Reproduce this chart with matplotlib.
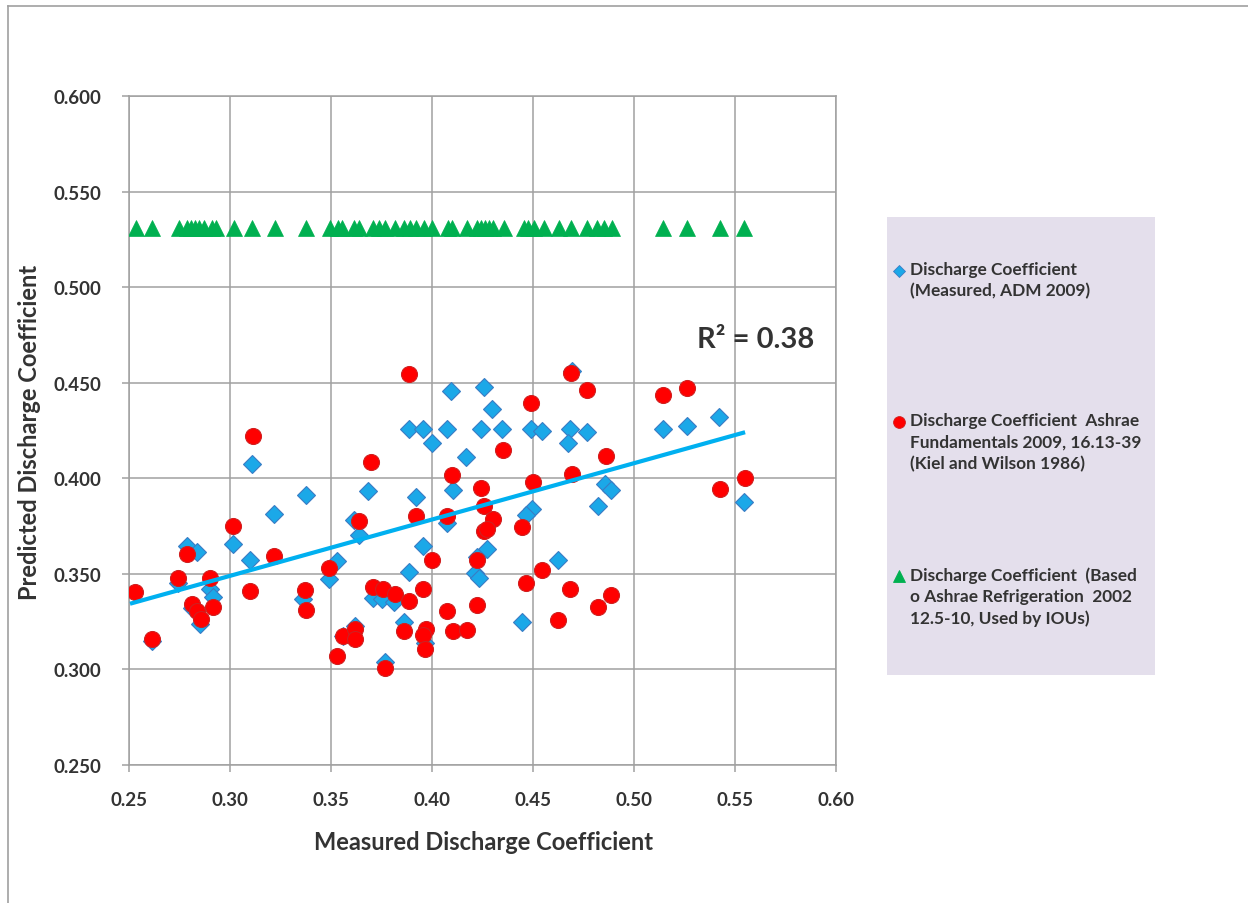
import numpy as np
import matplotlib
matplotlib.use("Agg")
import matplotlib.pyplot as plt
from matplotlib.patches import Rectangle
from matplotlib.lines import Line2D

# ---------------- data ----------------
measured_x = [0.2788, 0.2835, 0.3110, 0.3218, 0.3376, 0.3014, 0.3100, 0.2745, 0.2901, 0.2918,
              0.2810, 0.2851, 0.2612, 0.3531, 0.3490, 0.3614, 0.3637, 0.3685, 0.3619, 0.3561,
              0.3363, 0.4092, 0.4255, 0.4299, 0.3886, 0.3957, 0.4076, 0.4242, 0.4348, 0.4489,
              0.4547, 0.4683, 0.4001, 0.4166, 0.4675, 0.3920, 0.4105, 0.4073, 0.4494, 0.4466,
              0.3954, 0.4273, 0.4222, 0.3886, 0.4215, 0.4235, 0.4622, 0.3709, 0.3754, 0.3813,
              0.3861, 0.4444, 0.3966, 0.3767, 0.4692, 0.4769, 0.5143, 0.5261, 0.5422, 0.4857,
              0.4887, 0.4824, 0.5547]
measured_y = [0.3645, 0.3613, 0.4072, 0.3815, 0.3910, 0.3653, 0.3572, 0.3453, 0.3422, 0.3378,
              0.3322, 0.3238, 0.3148, 0.3566, 0.3470, 0.3779, 0.3702, 0.3933, 0.3226, 0.3174,
              0.3366, 0.4456, 0.4476, 0.4363, 0.4255, 0.4255, 0.4255, 0.4255, 0.4255, 0.4255,
              0.4246, 0.4255, 0.4184, 0.4110, 0.4182, 0.3901, 0.3936, 0.3767, 0.3840, 0.3805,
              0.3646, 0.3627, 0.3587, 0.3510, 0.3505, 0.3475, 0.3572, 0.3374, 0.3366, 0.3352,
              0.3247, 0.3247, 0.3139, 0.3038, 0.4560, 0.4244, 0.4255, 0.4272, 0.4320, 0.3971,
              0.3939, 0.3857, 0.3875]

kiel_x = [0.3113, 0.3017, 0.3218, 0.2788, 0.2745, 0.2901, 0.2529, 0.2810, 0.2835, 0.2856,
          0.2918, 0.3100, 0.3371, 0.3376, 0.2612, 0.3490, 0.3637, 0.3561, 0.3619, 0.3619,
          0.3531, 0.3888, 0.4492, 0.4353, 0.3697, 0.4097, 0.4499, 0.4242, 0.4257, 0.3921,
          0.4076, 0.4300, 0.4444, 0.4255, 0.4273, 0.4001, 0.4222, 0.4547, 0.4466, 0.4683,
          0.3709, 0.3756, 0.3815, 0.3957, 0.3888, 0.4222, 0.4076, 0.4625, 0.3861, 0.3971,
          0.3957, 0.3966, 0.4105, 0.4171, 0.3767, 0.4688, 0.4769, 0.5143, 0.5261, 0.4859,
          0.4692, 0.5550, 0.5424, 0.4824, 0.4887]
kiel_y = [0.4223, 0.3749, 0.3593, 0.3601, 0.3479, 0.3479, 0.3404, 0.3343, 0.3305, 0.3261,
          0.3327, 0.3410, 0.3413, 0.3308, 0.3156, 0.3528, 0.3776, 0.3174, 0.3209, 0.3156,
          0.3070, 0.4548, 0.4394, 0.4150, 0.4086, 0.4019, 0.3980, 0.3950, 0.3857, 0.3802,
          0.3802, 0.3786, 0.3744, 0.3723, 0.3732, 0.3572, 0.3572, 0.3521, 0.3453, 0.3418,
          0.3430, 0.3418, 0.3392, 0.3418, 0.3357, 0.3336, 0.3305, 0.3256, 0.3200, 0.3209,
          0.3179, 0.3108, 0.3200, 0.3206, 0.3008, 0.4551, 0.4461, 0.4438, 0.4473, 0.4116,
          0.4023, 0.4002, 0.3941, 0.3326, 0.3387]

ashrae_x = [0.2535, 0.2616, 0.2748, 0.2787, 0.2808, 0.2828, 0.2849, 0.2869, 0.2909, 0.2930,
            0.3021, 0.3108, 0.3223, 0.3378, 0.3495, 0.3535, 0.3555, 0.3616, 0.3637, 0.3708,
            0.3738, 0.3767, 0.3818, 0.3859, 0.3889, 0.3920, 0.3960, 0.4000, 0.4081, 0.4101,
            0.4171, 0.4223, 0.4243, 0.4263, 0.4283, 0.4303, 0.4354, 0.4455, 0.4476, 0.4506,
            0.4556, 0.4627, 0.4687, 0.4768, 0.4819, 0.4850, 0.4890, 0.5143, 0.5263, 0.5426,
            0.5547]
ashrae_value = 0.531  # constant predicted coefficient

trend_slope = 0.2949
trend_intercept = 0.2604
trend_x_range = [0.2505, 0.5550]
r2_label = "R² = 0.38"
r2_pos = (0.531, 0.4729)

x_ticks = [0.25, 0.30, 0.35, 0.40, 0.45, 0.50, 0.55, 0.60]
y_ticks = [0.250, 0.300, 0.350, 0.400, 0.450, 0.500, 0.550, 0.600]

legend_labels = ["Discharge Coefficient\n(Measured, ADM 2009)",
                 "Discharge Coefficient  Ashrae\nFundamentals 2009, 16.13-39\n(Kiel and Wilson 1986)",
                 "Discharge Coefficient  (Based\no Ashrae Refrigeration  2002\n12.5-10, Used by IOUs)"]

# ---------------- style ----------------
plt.rcParams['font.family'] = ['Lato', 'DejaVu Sans']
TXT = '#333333'
GRID = '#A0A0A0'
BLUE_FILL = '#1BA8E8'
BLUE_EDGE = '#3A7CC4'
RED = '#FF0000'
RED_EDGE = '#D02020'
GREEN = '#00B050'
TREND = '#00B0F0'

W, H = 1248, 904
fig = plt.figure(figsize=(W / 100, H / 100), dpi=100)
ax = fig.add_axes([129 / W, 1 - 765.7 / H, (836 - 129) / W, (765.7 - 97.2) / H])

ax.plot(measured_x, measured_y, linestyle='none', marker='D', markersize=9.5,
        markerfacecolor=BLUE_FILL, markeredgecolor=BLUE_EDGE, markeredgewidth=0.8, zorder=3)
ax.plot(kiel_x, kiel_y, linestyle='none', marker='o', markersize=11.5,
        markerfacecolor=RED, markeredgecolor=RED_EDGE, markeredgewidth=0.8, zorder=4)
ax.plot(ashrae_x, np.full(len(ashrae_x), ashrae_value), linestyle='none', marker='^',
        markersize=12, markerfacecolor=GREEN, markeredgecolor=GREEN, markeredgewidth=0.5, zorder=5)

tx = np.array(trend_x_range)
ax.plot(tx, trend_intercept + trend_slope * tx, color=TREND, linewidth=3.0,
        solid_capstyle='butt', zorder=6)

ax.set_xlim(0.25, 0.60)
ax.set_ylim(0.25, 0.60)
ax.set_xticks(x_ticks)
ax.set_yticks(y_ticks)
ax.set_xticklabels([f"{v:.2f}" for v in x_ticks])
ax.set_yticklabels([f"{v:.3f}" for v in y_ticks])
ax.grid(True, color=GRID, linewidth=1.1)
ax.set_axisbelow(True)
for s in ax.spines.values():
    s.set_color(GRID)
    s.set_linewidth(1.1)
ax.tick_params(axis='both', direction='out', length=5, width=1.1, color=GRID,
               labelsize=13.5, labelcolor=TXT)
ax.tick_params(axis='y', pad=15)
ax.tick_params(axis='x', pad=14)
for lab in ax.get_xticklabels() + ax.get_yticklabels():
    lab.set_fontweight('bold')

fig.text(483 / W, 1 - 843 / H, "Measured Discharge Coefficient", ha='center', va='center',
         fontsize=17, fontweight='bold', color=TXT)
fig.text(30 / W, 1 - 432 / H, "Predicted Discharge Coefficient", ha='center', va='center',
         rotation=90, fontsize=17, fontweight='bold', color=TXT)

ax.text(r2_pos[0], r2_pos[1], r2_label, ha='left', va='center', fontsize=21,
        fontweight='bold', color=TXT, transform=ax.transData)

# legend box
fig.patches.append(Rectangle((887 / W, 1 - 676 / H), (1155 - 887) / W, (676 - 218) / H,
                             transform=fig.transFigure, facecolor='#E4DFEC',
                             edgecolor='none', zorder=0))
legend_y = [271.5, 423, 577]
markers = [('D', BLUE_FILL, BLUE_EDGE, 6.5), ('o', RED, RED_EDGE, 8.5), ('^', GREEN, GREEN, 9)]
for ly, lab, (m, fc, ec, ms) in zip(legend_y, legend_labels, markers):
    fig.add_artist(Line2D([899 / W], [1 - ly / H], marker=m, markersize=ms,
                          markerfacecolor=fc, markeredgecolor=ec, markeredgewidth=0.6,
                          linestyle='none', transform=fig.transFigure))
    fig.text(910 / W, 1 - (ly - 10) / H, lab, ha='left', va='top', fontsize=12.4,
             fontweight='bold', color=TXT, linespacing=1.4)

# outer chart frame
fig.add_artist(Line2D([8 / W, 8 / W], [0, 1 - 7 / H], color=GRID, linewidth=1.2,
                      transform=fig.transFigure))
fig.add_artist(Line2D([8 / W, 1], [1 - 7 / H, 1 - 7 / H], color=GRID, linewidth=1.2,
                      transform=fig.transFigure))

fig.savefig("out.png", dpi=100)
